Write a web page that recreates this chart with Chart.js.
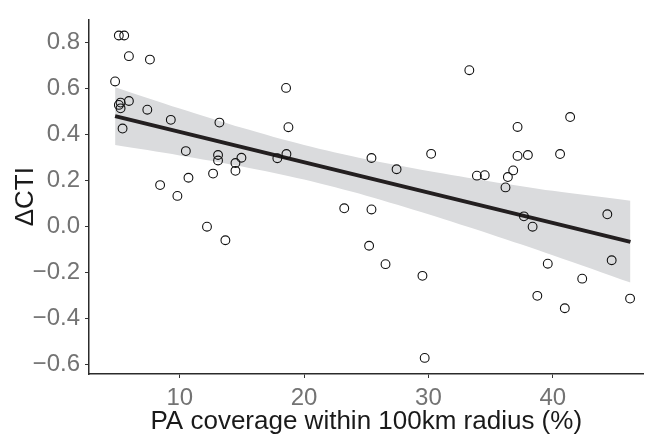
<!DOCTYPE html>
<html>
<head>
<meta charset="utf-8">
<script src="https://cdn.jsdelivr.net/npm/chart.js@4"></script>
<style>
  body { margin: 0; background: #fff; }
  #wrap { width: 649px; height: 437px; }
</style>
</head>
<body>
<div id="wrap"><canvas id="c"></canvas></div>
<script>
// observed points: PA coverage (%) vs ΔCTI
const paCover = [5.10, 5.53, 5.91, 7.60, 4.80, 5.24, 5.10, 5.24, 5.91, 5.40,
  7.39, 9.28, 10.49, 8.42, 9.81, 10.70, 12.68, 13.19, 13.08, 13.08,
  12.19, 14.48, 14.48, 14.96, 13.67, 18.55, 18.74, 17.85, 18.58, 23.23,
  25.42, 25.42, 25.23, 26.55, 27.44, 29.52, 29.70, 30.22, 33.29, 33.90,
  34.53, 36.20, 36.39, 36.82, 37.17, 37.17, 38.00, 37.68, 38.38, 38.76,
  39.60, 40.59, 40.97, 41.40, 42.37, 44.39, 44.74, 46.22];
const deltaCTI = [0.831, 0.831, 0.741, 0.726, 0.631, 0.539, 0.529, 0.514, 0.546, 0.426,
  0.508, 0.464, 0.328, 0.180, 0.133, 0.212, 0.230, 0.452, 0.311, 0.287,
  -0.001, 0.276, 0.242, 0.299, -0.060, 0.603, 0.432, 0.297, 0.315, 0.079,
  0.298, 0.074, -0.084, -0.164, 0.249, -0.215, -0.572, 0.316, 0.680, 0.221,
  0.223, 0.170, 0.215, 0.244, 0.433, 0.307, 0.311, 0.044, -0.001, -0.302,
  -0.162, 0.315, -0.356, 0.476, -0.227, 0.053, -0.147, -0.314];

// fitted line and confidence band
const fitX = [4.8, 46.25];
const fitY = [0.480, -0.067];
const bandX = [4.8, 10, 15, 20, 25, 30, 35, 40, 46.25];
const bandUpper = [0.606, 0.513, 0.429, 0.354, 0.292, 0.241, 0.196, 0.155, 0.112];
const bandLower = [0.354, 0.309, 0.261, 0.204, 0.134, 0.053, -0.034, -0.125, -0.244];

const xTicks = [10, 20, 30, 40];
const yTicks = [-0.6, -0.4, -0.2, 0.0, 0.2, 0.4, 0.6, 0.8];

const pts = (xs, ys) => xs.map((x, i) => ({x: x, y: ys[i]}));

const tickFont = {family: "'Liberation Sans', Arial, sans-serif", size: 24};
const titleFont = {family: "'Liberation Sans', Arial, sans-serif", size: 26};

new Chart(document.getElementById("c"), {
  type: "scatter",
  data: {
    datasets: [
      {
        data: pts(bandX, bandLower),
        showLine: true, pointRadius: 0, borderWidth: 0,
        tension: 0.3, fill: false, order: 3
      },
      {
        data: pts(bandX, bandUpper),
        showLine: true, pointRadius: 0, borderWidth: 0,
        tension: 0.3, fill: "-1",
        backgroundColor: "rgb(218,219,221)", order: 2
      },
      {
        data: pts(fitX, fitY),
        showLine: true, pointRadius: 0,
        borderColor: "#231f20", borderWidth: 4, order: 1
      },
      {
        data: pts(paCover, deltaCTI),
        pointRadius: 4.4, pointBorderWidth: 1.1,
        pointBorderColor: "#111", pointBackgroundColor: "rgba(0,0,0,0)",
        order: 0
      }
    ]
  },
  options: {
    responsive: true,
    maintainAspectRatio: false,
    animation: false,
    layout: {padding: {top: 10, right: 0, left: 0, bottom: 0}},
    plugins: {legend: {display: false}, tooltip: {enabled: false}},
    scales: {
      x: {
        type: "linear", min: 2.7, max: 47.3,
        afterFit: s => { s.height = 63; },
        afterBuildTicks: s => { s.ticks = xTicks.map(v => ({value: v})); },
        grid: {drawOnChartArea: false, drawTicks: true, tickLength: 4, color: "#333", lineWidth: 1},
        border: {display: true, color: "#2b2b2b", width: 1.5},
        ticks: {color: "#737373", font: tickFont, padding: 6, maxRotation: 0},
        title: {display: true, text: "PA coverage within 100km radius (%)",
          color: "#1a1a1a", font: titleFont, padding: {top: 0, bottom: 0}}
      },
      y: {
        type: "linear", min: -0.642, max: 0.901,
        afterFit: s => { s.width = 89; },
        afterBuildTicks: s => { s.ticks = yTicks.map(v => ({value: v})); },
        grid: {drawOnChartArea: false, drawTicks: true, tickLength: 4, color: "#333", lineWidth: 1},
        border: {display: true, color: "#2b2b2b", width: 1.5},
        ticks: {color: "#737373", font: tickFont, padding: 5,
          callback: v => v.toFixed(1).replace("-", "\u2212")},
        title: {display: true, text: "\u0394CTI",
          color: "#1a1a1a", font: titleFont, padding: {top: 10, bottom: 0}}
      }
    }
  }
});
</script>
</body>
</html>
